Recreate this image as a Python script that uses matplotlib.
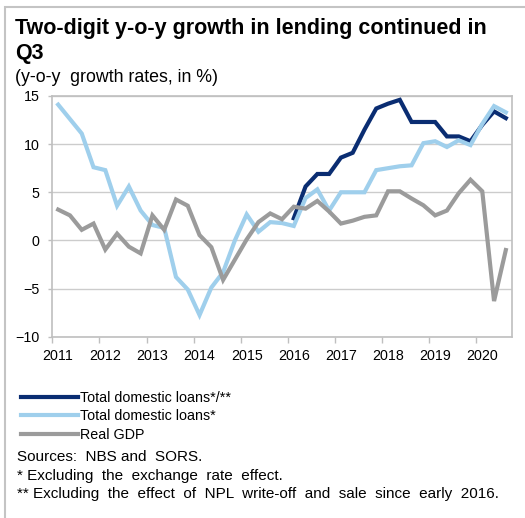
import numpy as np
import matplotlib
matplotlib.use("Agg")
import matplotlib.pyplot as plt
from matplotlib.patches import Rectangle

plt.rcParams['font.family'] = ['Liberation Sans', 'DejaVu Sans']

# quarterly y-o-y growth rates, 2011Q1 - 2020Q3
years = list(range(2011, 2021))
loans_npl = [np.nan] * 20 + [2.3, 5.6, 6.9, 6.9, 8.6, 9.1, 11.5, 13.7, 14.2, 14.6,
                             12.3, 12.3, 12.3, 10.8, 10.8, 10.3, 12.0, 13.4, 12.7]
loans = [14.1, 12.6, 11.1, 7.6, 7.3, 3.6, 5.6, 3.1, 1.6, 1.3,
         -3.8, -5.1, -7.75, -4.9, -3.3, 0.0, 2.7, 0.9, 1.9, 1.8,
         1.5, 4.4, 5.3, 3.1, 5.0, 5.0, 5.0, 7.3, 7.5, 7.7,
         7.8, 10.1, 10.3, 9.7, 10.4, 9.9, 12.1, 13.95, 13.3]
gdp = [3.2, 2.6, 1.1, 1.75, -0.95, 0.7, -0.65, -1.35, 2.6, 1.1,
       4.25, 3.6, 0.55, -0.7, -4.1, -2.0, 0.1, 1.9, 2.8, 2.2,
       3.5, 3.3, 4.1, 3.0, 1.75, 2.05, 2.45, 2.6, 5.1, 5.1,
       4.35, 3.65, 2.6, 3.1, 4.9, 6.3, 5.1, -6.3, -1.0]
labels = ["Total domestic loans*/**", "Total domestic loans*", "Real GDP"]
colors = ["#0a2d72", "#9fcfec", "#9b9b9b"]

x = 2011.125 + 0.25 * np.arange(len(gdp))

fig = plt.figure(figsize=(5.25, 5.18), dpi=100)
ax = fig.add_axes([0.0996, 0.35, 0.8751, 0.4647])

for vals, lab, col, z in zip([loans_npl, loans, gdp], labels, colors, [3, 4, 5]):
    ax.plot(x, vals, color=col, lw=3, label=lab, zorder=z, solid_joinstyle="miter")

ax.set_xlim(2011, 2020.75)
ax.set_ylim(-10, 15)
ax.set_yticks(np.arange(-10, 16, 5))
ax.set_xticks(years)
ax.set_xticklabels([])
ax.set_xticks([y + 0.125 for y in years], minor=True)
ax.set_xticklabels([str(y) for y in years], minor=True)
ax.tick_params(axis="x", which="major", length=4, color="#bfbfbf", width=1)
ax.tick_params(axis="x", which="minor", length=0, pad=8.5, labelsize=10.3)
ax.tick_params(axis="y", length=3, color="#bfbfbf", width=1, pad=6, labelsize=10.3)
ax.grid(axis="y", color="#cccccc", lw=1, zorder=0)
ax.set_axisbelow(True)
for s in ax.spines.values():
    s.set_color("#bfbfbf")
    s.set_linewidth(1.2)

# title block
fig.text(15 / 525, 1 - 34 / 518, "Two-digit y-o-y growth in lending continued in",
         fontsize=15.5, fontweight="bold", va="baseline")
fig.text(15 / 525, 1 - 59 / 518, "Q3", fontsize=15.5, fontweight="bold", va="baseline")
fig.text(15 / 525, 1 - 81.5 / 518, "(y-o-y  growth rates, in %)", fontsize=12.8, va="baseline")

fig.legend(loc="upper left", bbox_to_anchor=(21 / 525, 1 - 391 / 518), frameon=False,
           fontsize=10.3, handlelength=4.0, handletextpad=0.1, labelspacing=0.3,
           borderpad=0, borderaxespad=0)

fig.text(17 / 525, 1 - 461 / 518, "Sources:  NBS and  SORS.", fontsize=11, va="baseline")
fig.text(17 / 525, 1 - 480 / 518, "* Excluding  the  exchange  rate  effect.",
         fontsize=11, va="baseline")
fig.text(17 / 525, 1 - 498 / 518,
         "** Excluding  the  effect  of  NPL  write-off  and  sale  since  early  2016.",
         fontsize=11, va="baseline")

# outer frame
fig.patches.append(Rectangle((5 / 525, -0.1), 1.2, 1.1 - 7 / 518, transform=fig.transFigure,
                             fill=False, edgecolor="#c4c4c4", lw=1.5))

fig.savefig("out.png", dpi=100)
